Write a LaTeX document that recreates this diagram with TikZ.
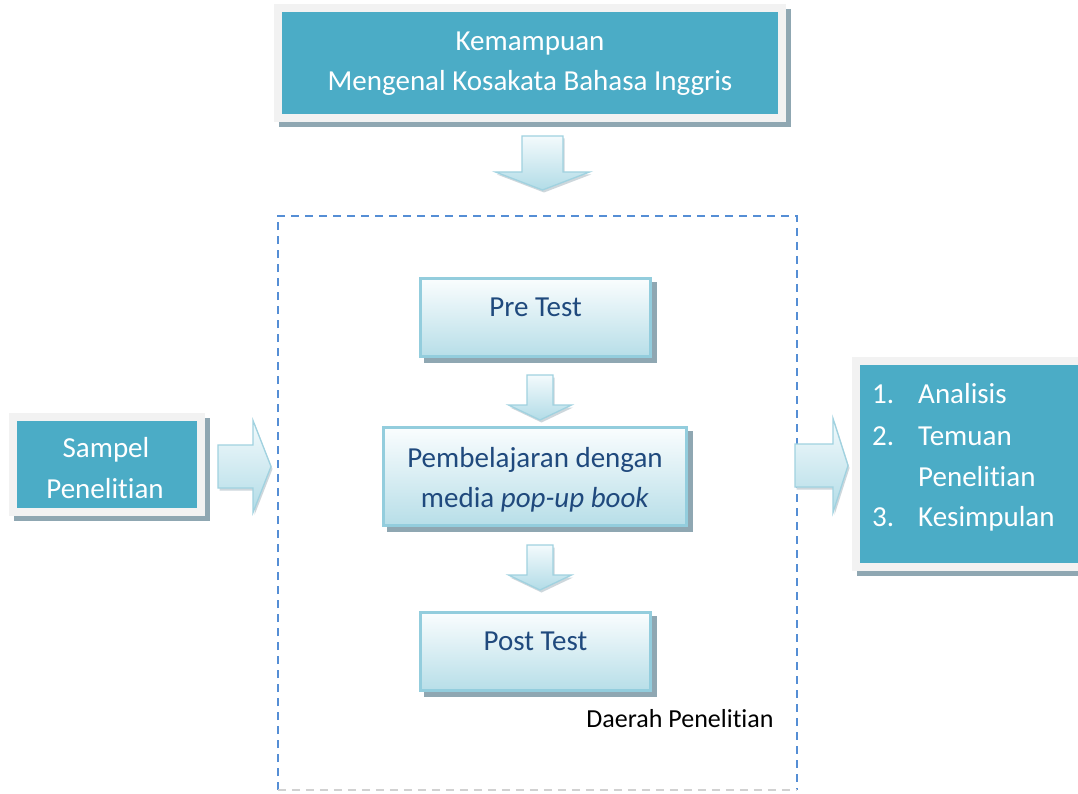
\documentclass[tikz,border=0pt]{standalone}
\usepackage{fontspec}
\setmainfont{Carlito}[Ligatures=NoCommon]
\definecolor{tealfill}{HTML}{4BACC6}
\definecolor{framegray}{HTML}{F2F2F2}
\definecolor{shadowgray}{HTML}{8FA7B2}
\definecolor{boxedge}{HTML}{93CDDD}
\definecolor{boxtop}{HTML}{FAFDFE}
\definecolor{boxbottom}{HTML}{B7DEE8}
\definecolor{boxtext}{HTML}{1F497D}
\definecolor{dashblue}{HTML}{558ED5}
\definecolor{arrowedge}{HTML}{A0D2E0}
\definecolor{arrowtop}{HTML}{F3FAFC}
\definecolor{arrowbottom}{HTML}{B2DCE7}

\tikzset{
  % down-pointing block arrow: shaft half width, shaft length, head half width, head length
  pics/downarrow/.style n args={4}{code={
    \path[arrowbody] (-#1,0) -- (#1,0) -- (#1,#2) -- (#3,#2) -- (0,{#2+#4})
      -- (-#3,#2) -- (-#1,#2) -- cycle;
  }},
  % right-pointing block arrow, origin at the middle of the shaft's back end
  pics/rightarrow/.style n args={4}{code={
    \path[arrowbody] (0,-#1) -- (#2,-#1) -- (#2,-#3) -- ({#2+#4},0)
      -- (#2,#3) -- (#2,#1) -- (0,#1) -- cycle;
  }},
}

\begin{document}
\begin{tikzpicture}[x=1pt,y=-1pt,
  tealbox/.style={rectangle, inner sep=0pt, fill=tealfill, draw=framegray, line width=8pt,
    preaction={fill=shadowgray, draw=shadowgray, transform canvas={xshift=5pt,yshift=-5pt}}},
  lightbox/.style={rectangle, inner sep=0pt, draw=boxedge, line width=3pt,
    top color=boxtop, bottom color=boxbottom,
    preaction={fill=shadowgray, draw=shadowgray, transform canvas={xshift=4.5pt,yshift=-4.5pt}}},
  arrowbody/.style={draw=arrowedge, line width=1.3pt, line join=miter,
    top color=arrowtop, bottom color=arrowbottom,
    preaction={fill=shadowgray!45, transform canvas={xshift=1.5pt,yshift=-2.5pt}}},
  whitetext/.style={text=white, inner sep=0pt, anchor=base, font=\fontsize{29}{40}\selectfont},
  bluetext/.style={text=boxtext, inner sep=0pt, anchor=base, font=\fontsize{29}{40}\selectfont},
  listtext/.style={text=white, inner sep=0pt, anchor=base west, font=\fontsize{29}{40}\selectfont},
  regionline/.style={draw=dashblue, line width=2.2pt, dash pattern=on 8pt off 6pt},
]
\clip (0,0) rectangle (1078,794);
\fill[white] (0,0) rectangle (1078,794);

% research area
\node[rectangle, minimum width=519pt, minimum height=574pt, inner sep=0pt] (region) at (537.5,503) {};
\draw[regionline] (region.south west) -- (region.north west) -- (region.north east) -- (region.south east);
\draw[regionline, draw=black!18] (region.south west) -- (region.south east);

% top box
\node[tealbox, minimum width=504pt, minimum height=110pt] (goal) at (530,63) {};
\node[whitetext] (goal1) at (530,51) {Kemampuan};
\node[whitetext] (goal2) at (530,91) {Mengenal Kosakata Bahasa Inggris};

\pic at (542.5,136) {downarrow={20.5}{36}{47}{18}};

% steps inside the area
\node[lightbox, minimum width=230pt, minimum height=78pt] (pre) at (535.5,317.5) {};
\node[bluetext] (pretext) at (535.5,316) {Pre Test};

\pic at (540,375) {downarrow={13}{30}{31.5}{15}};

\node[lightbox, minimum width=303pt, minimum height=98pt] (learn) at (535,476.5) {};
\node[bluetext] (learn1) at (535,467) {Pembelajaran dengan};
\node[bluetext] (learn2) at (535,507) {media \textit{pop-up book}};

\pic at (540,545) {downarrow={13}{30}{31.5}{15}};

\node[lightbox, minimum width=230pt, minimum height=78pt] (post) at (535.5,651.5) {};
\node[bluetext] (posttext) at (535.5,650) {Post Test};

\node[inner sep=0pt, anchor=base, font=\fontsize{26}{30}\selectfont] (area) at (680,727) {Daerah Penelitian};

% sample box
\node[tealbox, minimum width=188pt, minimum height=95pt] (sample) at (107,464.5) {};
\node[whitetext] (sample1) at (106,457) {Sampel};
\node[whitetext] (sample2) at (105,498) {Penelitian};

\pic at (218,466.5) {rightarrow={21.5}{35}{46}{18}};
\pic at (795,465.5) {rightarrow={21.5}{38}{47}{15}};

% results box
\node[tealbox, minimum width=238pt, minimum height=206pt] (result) at (975,464) {};
\node[listtext] (n1) at (872,403) {1.};
\node[listtext] (r1) at (918,403) {Analisis};
\node[listtext] (n2) at (872,445) {2.};
\node[listtext] (r2) at (918,445) {Temuan};
\node[listtext] (r2b) at (918,486) {Penelitian};
\node[listtext] (n3) at (872,526) {3.};
\node[listtext] (r3) at (918,526) {Kesimpulan};
\end{tikzpicture}
\end{document}
